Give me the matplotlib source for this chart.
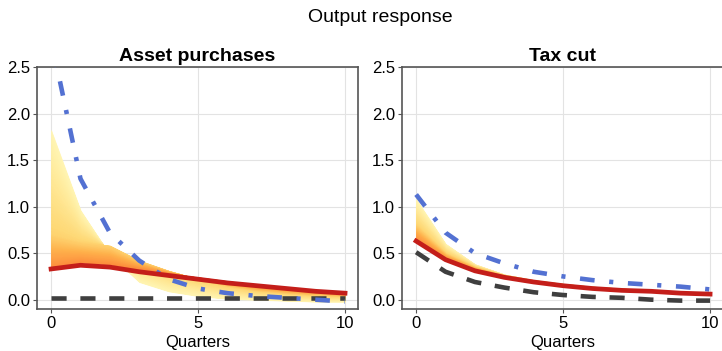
import numpy as np
import matplotlib
matplotlib.use('Agg')
import matplotlib.pyplot as plt

plt.rcParams['font.family'] = ['Liberation Sans', 'DejaVu Sans']

quarters = list(range(11))

# Asset purchases
ap_median = [0.33, 0.37, 0.35, 0.30, 0.26, 0.22, 0.18, 0.15, 0.12, 0.09, 0.07]
ap_blue = [2.8, 1.3, 0.72, 0.42, 0.22, 0.12, 0.07, 0.04, 0.02, 0.0, -0.02]
ap_black = [0.02, 0.02, 0.02, 0.02, 0.02, 0.02, 0.02, 0.02, 0.02, 0.02, 0.02]
# fan of responses: darkest (near median) -> middle -> palest
ap_fan_dark = [0.35, 0.40, 0.38, 0.33, 0.28, 0.24, 0.20, 0.16, 0.13, 0.10, 0.08]
ap_fan_mid = [0.70, 0.62, 0.58, 0.42, 0.31, 0.22, 0.15, 0.10, 0.07, 0.05, 0.04]
ap_fan_pale = [1.82, 0.96, 0.48, 0.19, 0.09, 0.04, 0.01, 0.0, -0.01, -0.02, -0.02]

# Tax cut
tc_median = [0.63, 0.43, 0.31, 0.24, 0.19, 0.15, 0.12, 0.10, 0.09, 0.07, 0.06]
tc_blue = [1.13, 0.72, 0.50, 0.39, 0.30, 0.25, 0.21, 0.18, 0.16, 0.14, 0.11]
tc_black = [0.51, 0.30, 0.19, 0.13, 0.08, 0.05, 0.03, 0.02, 0.0, -0.01, -0.01]
tc_fan_dark = [0.64, 0.44, 0.32, 0.25, 0.20, 0.16, 0.13, 0.11, 0.09, 0.08, 0.065]
tc_fan_mid = [0.80, 0.50, 0.35, 0.26, 0.205, 0.165, 0.135, 0.115, 0.095, 0.08, 0.065]
tc_fan_pale = [1.08, 0.60, 0.38, 0.27, 0.21, 0.17, 0.14, 0.12, 0.10, 0.08, 0.07]

panels = [
    ('Asset purchases', ap_median, ap_blue, ap_black, ap_fan_dark, ap_fan_mid, ap_fan_pale, 1.1),
    ('Tax cut', tc_median, tc_blue, tc_black, tc_fan_dark, tc_fan_mid, tc_fan_pale, 0),
]

fig = plt.figure(figsize=(7.22, 3.51), dpi=100)
axes = [fig.add_axes([0.0512, 0.1197, 0.4446, 0.6893]),
        fig.add_axes([0.5568, 0.1197, 0.4446, 0.6893])]

nb = 60
cmap = matplotlib.colormaps['YlOrRd']


def fan_curve(t, d, m, p):
    # shade position t in [0, 1] between the dark, middle and pale curves
    if t <= 0.5:
        s = t / 0.5
        return (1 - s) * d + s * m
    s = (t - 0.5) / 0.5
    return (1 - s) * m + s * p


for ax, (title, med, blue, black, fd, fm, fp, off) in zip(axes, panels):
    x = np.array(quarters)
    fd = np.array(fd); fm = np.array(fm); fp = np.array(fp)
    ts = np.linspace(1, 0, nb + 1)
    for k in range(nb):
        t = 0.5 * (ts[k] + ts[k + 1])
        c = cmap(0.07 + 0.43 * (1 - t) ** 1.1)
        a = fan_curve(ts[k], fd, fm, fp)
        b = fan_curve(ts[k + 1], fd, fm, fp)
        ax.fill_between(x, a, b, color=c, ec=c, lw=0.6, zorder=2)
    ax.plot(x, black, color='#3f3f3f', lw=3.3, ls=(0, (3.3, 3.0)), zorder=3)
    ax.plot(x, blue, color='#5371d2', lw=3.3, ls=(off, (3.2, 3.2, 0.9, 3.2)), zorder=4)
    ax.plot(x, med, color='#c41e1a', lw=3.4, zorder=5)

    ax.set_xlim(-0.48, 10.44)
    ax.set_ylim(-0.1, 2.5)
    ax.set_xticks([0, 5, 10])
    ax.set_yticks([0, 0.5, 1.0, 1.5, 2.0, 2.5])
    ax.set_yticklabels(['0.0', '0.5', '1.0', '1.5', '2.0', '2.5'])
    ax.grid(True, color='#e3e3e3', lw=0.8, zorder=0)
    ax.set_axisbelow(True)
    for s in ax.spines.values():
        s.set_color('#555555')
        s.set_linewidth(1.2)
    ax.tick_params(labelsize=12, length=3, color='#555555', pad=2)
    ax.set_xlabel('Quarters', fontsize=12, labelpad=3)
    ax.set_title(title, fontsize=14, fontweight='bold', pad=4)

fig.suptitle('Output response', fontsize=14, x=0.527, y=0.975)

fig.savefig('out.png', dpi=100)
